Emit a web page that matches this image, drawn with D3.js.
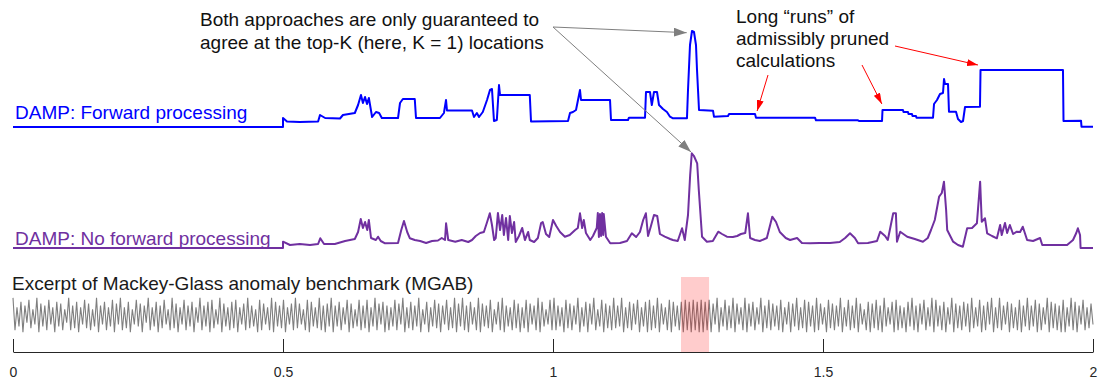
<!DOCTYPE html>
<html>
<head>
<meta charset="utf-8">
<script src="https://cdn.jsdelivr.net/npm/d3@7"></script>
<style>
body { margin: 0; background: #fff; }
svg { display: block; font-family: Arial, "Liberation Sans", sans-serif; }
</style>
</head>
<body>
<div class="chart"></div>
<script>
// DAMP with forward processing (left-to-right position, distance)
const fwdX = [0,0.5,0.5,0.5074,0.531,0.565,0.5685,0.578,0.6056,0.611,0.633,0.639,0.6444,0.648,0.6519,0.6556,0.659,0.665,0.6722,0.678,0.683,0.713,0.7167,0.722,0.744,0.7463,0.7907,0.798,0.8019,0.8037,0.85,0.8537,0.859,0.863,0.87,0.8778,0.8833,0.887,0.8907,0.896,0.9,0.9019,0.957,0.9593,1.0278,1.0315,1.037,1.0426,1.05,1.0519,1.1056,1.1074,1.1389,1.1407,1.1704,1.1722,1.1796,1.183,1.187,1.1926,1.1963,1.2037,1.211,1.2167,1.2222,1.2481,1.25,1.2537,1.2574,1.2611,1.2648,1.2667,1.2704,1.2963,1.2981,1.3241,1.326,1.3741,1.3759,1.4852,1.487,1.5648,1.5667,1.6093,1.6102,1.6481,1.6491,1.6574,1.6583,1.6648,1.6657,1.6722,1.6731,1.6833,1.7037,1.7056,1.7111,1.7167,1.7222,1.7241,1.7259,1.7315,1.7333,1.7463,1.75,1.7556,1.7593,1.763,1.7907,1.7917,1.9444,1.9454,1.9778,1.9787,2];
const fwdY = [0,0,0.9,0.55,0.5,0.55,1.2,0.9,0.85,1.2,1.4,2.2,3.2,2.4,3.0,2.3,2.9,1.0,1.5,1.4,0.9,0.9,2.4,2.8,2.8,0.9,0.9,1.4,2.7,1.65,1.65,1.0,1.4,1.0,1.5,2.7,3.7,3.8,0.6,0.7,4.2,3.2,3.2,0.55,0.6,1.4,1.5,1.7,3.7,2.7,2.7,0.7,0.7,0.93,0.93,3.5,3.5,2.2,3.5,3.5,2.2,1.8,1.5,1.03,0.87,0.87,3.7,8.2,9.6,9.5,8.2,5.7,1.7,1.63,1.03,1.1,1.3,1.3,0.93,0.93,0.67,0.67,0.6,0.6,1.7,1.7,1.5,1.5,1.3,1.3,1.1,1.1,0.93,0.93,0.93,2.3,2.7,3.3,3.4,4.8,4.3,4.3,1.53,1.53,0.8,0.5,0.6,2.0,2.03,5.7,5.7,0.6,0.63,0.03,0.03];

// DAMP without forward processing
const noFwdX = [0,0.5,0.5,0.513,0.531,0.55,0.565,0.569,0.576,0.596,0.615,0.633,0.639,0.644,0.648,0.652,0.656,0.659,0.663,0.672,0.676,0.681,0.689,0.713,0.719,0.724,0.73,0.735,0.744,0.754,0.765,0.776,0.787,0.794,0.8,0.802,0.806,0.819,0.831,0.843,0.85,0.857,0.865,0.872,0.878,0.883,0.887,0.891,0.894,0.898,0.902,0.906,0.909,0.913,0.917,0.92,0.924,0.928,0.931,0.937,0.943,0.948,0.954,0.957,0.965,0.972,0.978,0.981,0.987,0.993,1.0,1.006,1.013,1.022,1.031,1.041,1.046,1.05,1.054,1.057,1.061,1.069,1.074,1.081,1.083,1.085,1.087,1.089,1.091,1.093,1.094,1.098,1.106,1.124,1.137,1.146,1.154,1.161,1.167,1.172,1.176,1.181,1.187,1.193,1.198,1.207,1.217,1.222,1.231,1.239,1.244,1.25,1.254,1.257,1.261,1.267,1.27,1.276,1.285,1.296,1.306,1.313,1.322,1.333,1.341,1.348,1.356,1.361,1.365,1.374,1.383,1.396,1.406,1.413,1.42,1.431,1.439,1.452,1.461,1.476,1.494,1.513,1.531,1.541,1.55,1.559,1.565,1.583,1.6,1.606,1.615,1.62,1.63,1.635,1.637,1.643,1.656,1.67,1.685,1.694,1.7,1.707,1.715,1.72,1.724,1.728,1.73,1.741,1.75,1.759,1.767,1.776,1.785,1.791,1.794,1.8,1.804,1.813,1.822,1.828,1.831,1.837,1.841,1.846,1.852,1.859,1.865,1.87,1.878,1.889,1.902,1.906,1.93,1.952,1.963,1.969,1.972,1.976,1.977,2];
const noFwdY = [0,0,0.63,0.3,0.4,0.3,0.4,0.97,0.4,0.4,0.7,0.9,1.6,2.9,2.0,2.6,1.8,2.8,1.0,0.8,1.13,0.7,0.47,0.5,1.8,2.7,1.6,0.97,0.8,0.7,0.5,0.7,0.75,1.0,0.8,2.47,0.8,0.63,0.8,0.6,0.8,1.2,1.5,1.6,2.6,3.47,2.3,0.8,1.0,3.5,1.8,3.3,1.3,3.0,0.8,3.2,1.5,2.6,0.6,1.2,2.0,0.8,1.6,0.8,0.6,1.0,2.5,2.6,1.4,1.1,2.8,2.2,1.6,1.13,1.3,1.8,2.0,3.47,2.0,2.8,1.5,0.8,1.2,2.0,3.5,1.1,3.4,1.2,3.5,1.3,3.4,1.13,0.47,0.5,0.7,1.47,1.1,1.6,2.8,3.47,1.2,2.13,3.3,3.2,1.4,1.13,0.9,0.8,0.7,1.97,0.8,3.3,7.3,9.47,9.2,8.47,5.8,1.13,0.63,0.7,1.63,1.4,1.13,1.1,1.2,1.4,1.5,3.47,1.0,0.8,0.7,1.0,3.13,2.6,1.6,1.0,0.8,1.0,0.5,0.47,0.5,0.5,0.6,1.0,1.47,1.0,0.47,0.5,0.7,1.63,1.2,0.8,3.47,3.47,0.63,1.63,1.13,0.9,0.63,1.0,1.8,2.8,5.13,5.5,6.63,3.8,1.8,0.63,0.3,0.13,1.97,2.0,2.47,6.63,2.63,2.97,1.47,1.2,0.97,2.3,1.3,2.5,1.5,2.3,1.4,1.63,1.6,2.13,0.8,0.7,1.0,0.3,0.3,0.3,0.8,1.5,1.97,1.3,0,0];

// MGAB excerpt, tenths of amplitude, evenly sampled over [0, 2]
const mgab = [
  9,-8,4,-6,7,-9,5,-4,8,-7,3,-5,9,-9,6,-6,
  5,-8,8,-5,4,-9,7,-6,6,-8,3,-4,9,-8,5,-7,
  7,-9,4,-5,8,-7,6,-8,3,-6,9,-9,5,-5,7,-8,
  4,-6,8,-9,6,-5,9,-8,4,-7,7,-9,3,-5,8,-6,
  6,-9,5,-4,9,-8,4,-6,7,-9,5,-7,8,-5,3,-8,
  9,-7,6,-9,4,-5,8,-8,5,-6,7,-9,4,-4,9,-8,
  5,-6,7,-9,8,-7,3,-5,9,-9,6,-6,4,-8,7,-7,
  8,-9,4,-5,6,-8,9,-7,5,-6,3,-9,8,-8,6,-5,
  4,-8,9,-9,7,-6,5,-7,8,-9,4,-5,6,-8,9,-7,
  6,-5,3,-8,8,-9,7,-6,4,-7,9,-8,5,-9,6,-6,
  9,-9,5,-6,7,-8,4,-5,8,-9,6,-7,3,-6,8,-8,
  5,-7,8,-9,4,-6,9,-8,6,-5,7,-9,5,-8,4,-6,
  8,-8,6,-5,9,-9,4,-7,7,-8,5,-6,9,-9,3,-5,
  7,-9,4,-6,8,-7,6,-9,5,-5,8,-8,4,-7,9,-9,
  6,-6,9,-8,5,-9,7,-5,4,-8,9,-9,6,-6,5,-7,
  8,-9,3,-5,7,-8,9,-9,5,-6,4,-8,8,-7,6,-9,
  4,-7,8,-9,6,-5,5,-8,9,-9,7,-6,3,-5,8,-8,
  9,-8,5,-6,4,-9,8,-7,6,-8,5,-5,9,-9,4,-6,
  7,-9,6,-5,9,-8,3,-6,8,-9,6,-7,5,-8,9,-7,
  5,-6,9,-9,4,-7,7,-8,6,-5,8,-9,4,-6,7,-9,
  8,-8,5,-7,9,-9,6,-5,4,-8,8,-9,7,-6,5,-8,
  7,-9,8,-8,7,-9,8,-8,7,-9,8,-9,7,-8,8,-9,
  6,-5,9,-9,4,-6,8,-8,5,-7,9,-9,6,-5,4,-8,
  9,-9,6,-6,7,-8,4,-5,9,-9,5,-7,8,-8,6,-6,
  5,-8,8,-9,4,-5,7,-9,6,-6,9,-8,4,-7,8,-9,
  7,-6,5,-9,9,-8,6,-5,4,-9,8,-7,6,-8,5,-6,
  9,-9,4,-6,8,-8,5,-7,9,-9,6,-5,3,-8,7,-9,
  6,-7,8,-8,5,-9,9,-6,4,-5,7,-9,8,-8,5,-7,
  4,-9,7,-6,9,-8,5,-9,6,-5,8,-8,4,-6,9,-9,
  8,-6,5,-8,7,-9,4,-5,9,-9,6,-7,5,-8,7,-6,
  6,-9,9,-7,4,-6,8,-9,5,-8,7,-5,9,-9,4,-7,
  9,-8,5,-5,7,-9,6,-7,4,-8,8,-9,5,-6,9,-8,
  5,-6,8,-9,6,-8,4,-5,9,-9,7,-7,6,-8,5,-9,
  8,-9,4,-6,9,-8,7,-9,5,-5,8,-8,4,-7,6,-5
];

const anomaly = [1.237, 1.289];
const ticks = [0, 0.5, 1, 1.5, 2];
const tickLabels = ['0', '0.5', '1', '1.5', '2'];

const width = 1103, height = 379;
const blue = '#0000ff', purple = '#7030a0', grey = '#7f7f7f';

const svg = d3.select('.chart').append('svg')
  .attr('width', width)
  .attr('height', height);

svg.append('rect').attr('width', width).attr('height', height).attr('fill', '#fff');

const xScale = d3.scaleLinear().domain([0, 2]).range([13, 1093]);
const yFwd = d3.scaleLinear().domain([0, 10]).range([127, 27]);
const yNoFwd = d3.scaleLinear().domain([0, 10]).range([248, 148]);
const ySig = d3.scaleLinear().domain([-1, 1]).range([334, 296]);

const defs = svg.append('defs');
function marker(id, color, len, wid) {
  defs.append('marker')
    .attr('id', id)
    .attr('markerUnits', 'userSpaceOnUse')
    .attr('viewBox', `0 0 ${len} ${wid}`)
    .attr('refX', len).attr('refY', wid / 2)
    .attr('markerWidth', len).attr('markerHeight', wid)
    .attr('orient', 'auto')
    .append('path')
    .attr('d', `M0,0L${len},${wid / 2}L0,${wid}Z`)
    .attr('fill', color);
}
marker('arrGrey', grey, 13, 9);
marker('arrRed', '#ff0000', 11, 7);

const fwdLine = d3.line().x((d, i) => xScale(fwdX[i])).y(d => yFwd(d));
const noFwdLine = d3.line().x((d, i) => xScale(noFwdX[i])).y(d => yNoFwd(d));
const sigX = d3.scaleLinear().domain([0, mgab.length - 1]).range([0, 2]);
const sigLine = d3.line().x((d, i) => xScale(sigX(i))).y(d => ySig(d / 10));

svg.append('path')
  .attr('d', fwdLine(fwdY))
  .attr('fill', 'none')
  .attr('stroke', blue)
  .attr('stroke-width', 2)
  .attr('stroke-linejoin', 'round');

svg.append('path')
  .attr('d', noFwdLine(noFwdY))
  .attr('fill', 'none')
  .attr('stroke', purple)
  .attr('stroke-width', 2)
  .attr('stroke-linejoin', 'round');

svg.append('path')
  .attr('d', sigLine(mgab))
  .attr('fill', 'none')
  .attr('stroke', grey)
  .attr('stroke-width', 1.1);

svg.append('rect')
  .attr('x', xScale(anomaly[0]))
  .attr('y', 277)
  .attr('width', xScale(anomaly[1]) - xScale(anomaly[0]))
  .attr('height', 352 - 277)
  .attr('fill', 'rgba(255,0,0,0.2)');

const xAxis = d3.axisBottom(xScale)
  .tickValues(ticks)
  .tickFormat((d, i) => tickLabels[i])
  .tickSizeInner(-13)
  .tickSizeOuter(0)
  .tickPadding(15);

const ax = svg.append('g')
  .attr('class', 'axis x-axis')
  .attr('transform', 'translate(0,352)')
  .call(xAxis);
ax.select('.domain').attr('stroke', '#262626');
ax.selectAll('.tick line').attr('stroke', '#262626');
ax.selectAll('.tick text')
  .attr('fill', '#262626')
  .style('font-size', '14px')
  .style('font-family', 'Arial, "Liberation Sans", sans-serif');

// series labels
svg.append('text').attr('x', 15).attr('y', 119).attr('fill', blue)
  .style('font-size', '19px').text('DAMP: Forward processing');
svg.append('text').attr('x', 15).attr('y', 245).attr('fill', purple)
  .style('font-size', '19px').text('DAMP: No forward processing');
svg.append('text').attr('x', 12).attr('y', 290).attr('fill', '#1a1a1a')
  .style('font-size', '19px').text('Excerpt of Mackey-Glass anomaly benchmark (MGAB)');

// annotations
const note1 = ['Both approaches are only guaranteed to', 'agree at the top-K (here, K = 1) locations'];
const note2 = ['Long \u201cruns\u201d of', 'admissibly pruned', 'calculations'];

svg.append('text').attr('x', 200).attr('y', 26).attr('fill', '#111')
  .style('font-size', '19px')
  .selectAll('tspan').data(note1).join('tspan')
  .attr('x', 200).attr('dy', (d, i) => i ? 23 : 0).text(d => d);

svg.append('text').attr('x', 736).attr('y', 23).attr('fill', '#111')
  .style('font-size', '19px')
  .selectAll('tspan').data(note2).join('tspan')
  .attr('x', 736).attr('dy', (d, i) => i ? 22 : 0).text(d => d);

const greyArrows = [
  {x: 1.2476, y: yFwd(9.43)},
  {x: 1.2556, y: yNoFwd(9.6)}
];
svg.selectAll('.garrow').data(greyArrows).join('line')
  .attr('class', 'garrow')
  .attr('x1', 553).attr('y1', 27)
  .attr('x2', d => xScale(d.x)).attr('y2', d => d.y)
  .attr('stroke', grey).attr('stroke-width', 1)
  .attr('marker-end', 'url(#arrGrey)');

const redArrows = [
  {x0: 768, y0: 75, x: 1.378, v: 1.6},
  {x0: 862, y0: 65, x: 1.609, v: 2.3},
  {x0: 895, y0: 46, x: 1.787, v: 6.2}
];
svg.selectAll('.rarrow').data(redArrows).join('line')
  .attr('class', 'rarrow')
  .attr('x1', d => d.x0).attr('y1', d => d.y0)
  .attr('x2', d => xScale(d.x)).attr('y2', d => yFwd(d.v))
  .attr('stroke', '#ff0000').attr('stroke-width', 1)
  .attr('marker-end', 'url(#arrRed)');
</script>
</body>
</html>
